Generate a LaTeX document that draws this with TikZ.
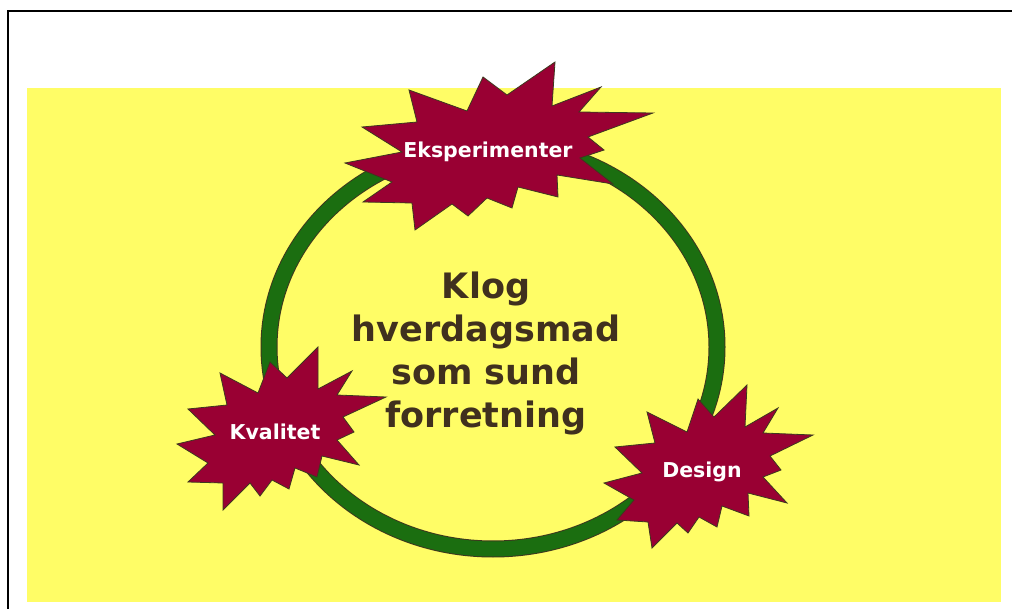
\documentclass[tikz,border=0pt]{standalone}
\usepackage{fontspec}
\setmainfont{DejaVu Sans}
\usepackage{xcolor}
\definecolor{padyellow}{RGB}{255,253,102}
\definecolor{ringgreen}{RGB}{27,110,16}
\definecolor{burstred}{RGB}{153,0,51}
\definecolor{edgedark}{RGB}{62,56,30}
\definecolor{textbrown}{RGB}{64,48,30}

\begin{document}
\begin{tikzpicture}[x=1pt,y=-1pt,
    burst/.style={fill=burstred,draw=edgedark,line width=0.8pt},
    burstlabel/.style={text=white,font=\fontsize{20.5}{24}\selectfont\bfseries,inner sep=0pt,anchor=base},
    centretext/.style={text=textbrown,font=\fontsize{35}{43}\selectfont\bfseries,align=center,inner sep=0pt}]
    \useasboundingbox (0,0) rectangle (1012,609);

    % Frame and background
    \draw[line width=2pt] (8,609) -- (8,11) -- (1012,11);
    \fill[padyellow] (27,88) rectangle (1001,602);

    % Ring
    \draw[edgedark,line width=17pt] (493,347) ellipse [x radius=224, y radius=202];
    \draw[ringgreen,line width=15pt] (493,347) ellipse [x radius=224, y radius=202];

    % Centre text
    \node[centretext] (title) at (486,353) {Klog\\hverdagsmad\\som sund\\forretning};

    % Eksperimenter
    \draw[burst] (555,62) -- (552,106) -- (601,87) -- (579,112) -- (653,113) -- (588,137)
        -- (604,150) -- (580,158) -- (613,184) -- (557,175) -- (558,197) -- (518,187)
        -- (512,208) -- (487,198) -- (468,216) -- (452,204) -- (415,230) -- (412,203)
        -- (363,202) -- (392,182) -- (345,163) -- (402,152) -- (362,127) -- (417,122)
        -- (409,90) -- (467,111) -- (483,77) -- (507,95) -- cycle;
    \node[burstlabel] (eksp) at (488,158) {Eksperimenter};

    % Kvalitet
    \draw[burst] (318,347) -- (318,389) -- (352,371) -- (337,395) -- (386,397) -- (343,417)
        -- (354,432) -- (337,440) -- (359,465) -- (322,456) -- (317,477) -- (295,468)
        -- (289,489) -- (272,480) -- (260,496) -- (250,483) -- (223,510) -- (223,483)
        -- (188,482) -- (208,463) -- (177,444) -- (215,435) -- (188,409) -- (227,405)
        -- (220,373) -- (258,393) -- (270,362) -- (287,378) -- cycle;
    \node[burstlabel] (kval) at (275,439) {Kvalitet};

    % Design
    \draw[burst] (747,385) -- (745,427) -- (778,408) -- (763,433) -- (813,435) -- (770,456)
        -- (781,470) -- (763,477) -- (787,503) -- (748,493) -- (749,516) -- (722,506)
        -- (717,527) -- (699,517) -- (688,533) -- (677,523) -- (652,548) -- (648,522)
        -- (617,520) -- (634,500) -- (604,483) -- (642,473) -- (615,447) -- (655,443)
        -- (647,412) -- (687,432) -- (698,399) -- (714,417) -- cycle;
    \node[burstlabel] (design) at (702,477) {Design};
\end{tikzpicture}
\end{document}
